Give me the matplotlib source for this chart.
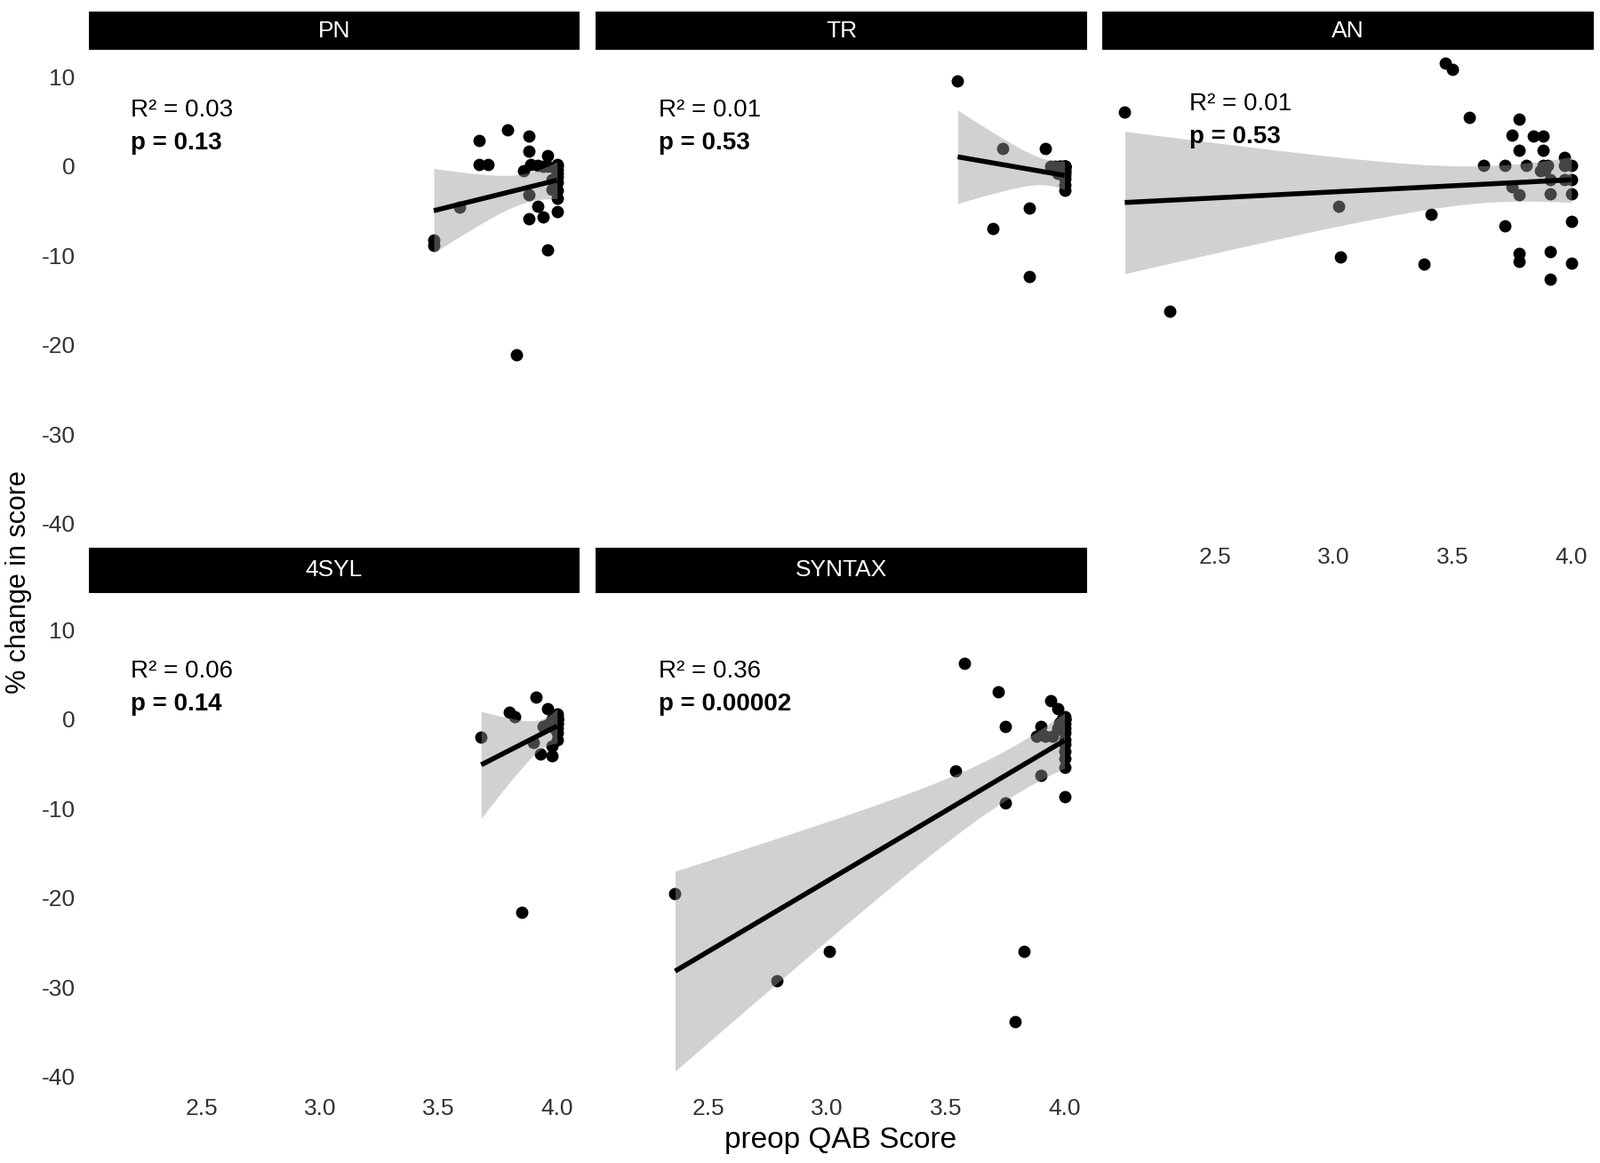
import numpy as np
import matplotlib.pyplot as plt

plt.rcParams['font.family'] = ['Liberation Sans', 'DejaVu Sans']
plt.rcParams['axes.unicode_minus'] = False

# facet names and annotation text
panels = ["PN", "TR", "AN", "4SYL", "SYNTAX"]
r2_labels = ["R\u00b2 = 0.03", "R\u00b2 = 0.01", "R\u00b2 = 0.01", "R\u00b2 = 0.06", "R\u00b2 = 0.36"]
p_labels = ["p = 0.13", "p = 0.53", "p = 0.53", "p = 0.14", "p = 0.00002"]

# preop QAB score vs % change in score
# (many patients sit on top of each other at the 4.0 ceiling)
pn_x = [3.48, 3.48, 3.59, 3.67, 3.67, 3.71, 3.79, 3.88, 3.88, 3.86, 3.83, 3.88, 3.88,
        3.92, 3.94, 3.96, 3.89, 3.92, 3.96, 3.96, 3.98, 4.0, 4.0, 4.0, 4.0, 4.0, 4.0, 3.98, 3.94,
        4.0, 4.0, 4.0, 3.99, 3.99]
pn_y = [-8.3, -8.9, -4.6, 2.9, 0.2, 0.2, 4.0, 3.4, 1.7, -0.5, -21.1, -3.2, -5.9,
        -4.5, -5.7, -9.4, 0.2, 0.1, 1.2, 0.0, -1.5, 0.2, -0.8, -1.8, -2.7, -3.6, -5.1, -2.6, 0.0,
        0.0, -0.4, -1.2, -0.2, -2.0]

tr_x = [3.55, 3.74, 3.92, 3.70, 3.85, 3.85, 3.94, 3.96, 3.98, 4.0, 4.0, 4.0, 4.0, 4.0, 3.97,
        4.0, 4.0, 4.0, 4.0, 4.0, 4.0, 3.99, 3.99, 3.98, 3.98, 4.0, 4.0]
tr_y = [9.5, 2.0, 2.0, -7.0, -4.7, -12.4, 0.0, 0.0, 0.0, 0.0, -0.7, -1.4, -2.1, -2.7, -0.8,
        0.0, 0.0, 0.0, 0.0, -0.3, -0.5, 0.0, -0.6, -0.2, 0.0, 0.0, -1.0]

an_x = [2.12, 2.31, 3.02, 3.03, 3.38, 3.41, 3.47, 3.50, 3.57, 3.63, 3.72, 3.72, 3.75, 3.75,
        3.78, 3.78, 3.78, 3.78, 3.78, 3.81, 3.84, 3.88, 3.88, 3.88, 3.90, 3.91, 3.91, 3.91,
        3.91, 3.97, 3.97, 4.0, 4.0, 3.97, 4.0, 4.0, 4.0, 3.87, 3.89]
an_y = [6.0, -16.2, -4.5, -10.2, -11.0, -5.4, 11.5, 10.8, 5.4, 0.1, 0.1, -6.7, 3.5, -2.3,
        5.2, 1.8, -3.2, -9.8, -10.7, 0.1, 3.4, 3.4, 1.8, 0.1, 0.1, -1.5, -3.1, -9.6,
        -12.7, 1.0, 0.1, 0.1, -1.5, -1.5, -3.1, -6.2, -10.9, -0.5, -0.4]

syl_x = [3.68, 3.80, 3.82, 3.91, 3.85, 3.90, 3.96, 4.0, 4.0, 4.0, 3.98, 3.93, 3.98,
         3.96, 3.94, 4.0, 4.0, 4.0, 4.0, 4.0, 4.0, 4.0, 3.99, 3.99, 3.99, 3.98, 3.98, 4.0]
syl_y = [-2.0, 0.8, 0.3, 2.5, -21.6, -2.6, 1.2, 0.3, -1.0, -2.3, -3.0, -3.9, -4.1,
         -0.6, -0.8, -0.4, 0.0, 0.0, 0.0, 0.0, -0.5, -1.5, 0.0, -0.3, -1.0, 0.0, -0.2, 0.6]

syn_x = [2.36, 2.79, 3.01, 3.54, 3.58, 3.72, 3.75, 3.75, 3.83, 3.79, 3.90, 3.90, 3.94,
         3.97, 4.0, 4.0, 4.0, 4.0, 4.0, 4.0, 3.88, 3.92, 3.95, 3.97,
         4.0, 4.0, 4.0, 4.0, 4.0, 4.0, 4.0, 3.99, 3.99, 3.98]
syn_y = [-19.5, -29.3, -26.0, -5.8, 6.2, 3.1, -0.8, -9.4, -26.0, -33.8, -6.3, -0.8, 2.1,
         1.2, -8.7, 0.3, -1.0, -2.3, -3.6, -5.4, -1.9, -1.9, -1.9, -1.0,
         0.0, 0.0, 0.0, -0.5, -1.5, -2.8, -4.4, 0.0, -1.2, -0.4]

data_x = [pn_x, tr_x, an_x, syl_x, syn_x]
data_y = [pn_y, tr_y, an_y, syl_y, syn_y]

# where the annotation text sits in each panel (data units)
text_pos = [(2.20, 6.2, 2.6), (2.29, 6.2, 2.6), (2.39, 6.9, 3.3),
            (2.20, 5.3, 1.7), (2.29, 5.3, 1.7)]

W, H = 1800, 1308
fig = plt.figure(figsize=(W / 100, H / 100), dpi=100)


def rect(left, top, right, bottom):
    return [left / W, 1 - bottom / H, (right - left) / W, (bottom - top) / H]


def t975(df):
    z = 1.959964
    return z + (z**3 + z) / (4 * df) + (5 * z**5 + 16 * z**3 + 3 * z) / (96 * df**2)


cols = [(100, 652), (670, 1223), (1240, 1793)]
rows = [(13, 56, 605), (616, 667, 1225)]
row_ylim = [(-41.6, 13.0), (-41.4, 14.1)]
tick_color = "#333333"

for i, name in enumerate(panels):
    r, c = divmod(i, 3)
    x0, x1 = cols[c]
    st, pt, pb = rows[r]

    strip = fig.add_axes(rect(x0, st, x1, pt))
    strip.set_facecolor("black")
    strip.set_xticks([])
    strip.set_yticks([])
    for s in strip.spines.values():
        s.set_visible(False)
    strip.text(0.5, 0.5, name, color="white", fontsize=19, ha="center", va="center",
               transform=strip.transAxes)

    ax = fig.add_axes(rect(x0, pt, x1, pb))
    for s in ax.spines.values():
        s.set_visible(False)
    x = np.array(data_x[i])
    y = np.array(data_y[i])

    ax.scatter(x, y, s=100, color="black", zorder=2, linewidths=0)

    # linear fit with 95% confidence band
    slope, icpt = np.polyfit(x, y, 1)
    n = len(x)
    xs = np.linspace(x.min(), x.max(), 100)
    fit = icpt + slope * xs
    resid = y - (icpt + slope * x)
    s_err = np.sqrt(np.sum(resid**2) / (n - 2))
    sxx = np.sum((x - x.mean())**2)
    half = t975(n - 2) * s_err * np.sqrt(1 / n + (xs - x.mean())**2 / sxx)
    ax.fill_between(xs, fit - half, fit + half, color="#999999", alpha=0.45,
                    linewidth=0, zorder=3)
    ax.plot(xs, fit, color="black", lw=4, zorder=4, solid_capstyle="butt")

    tx, ty_r, ty_p = text_pos[i]
    ax.text(tx, ty_r, r2_labels[i], fontsize=20, ha="left", va="center")
    ax.text(tx, ty_p, p_labels[i], fontsize=20, fontweight="bold", ha="left", va="center")

    ax.set_xlim(2.025, 4.095)
    ax.set_ylim(*row_ylim[r])
    ax.set_xticks([2.5, 3.0, 3.5, 4.0])
    ax.set_yticks([10, 0, -10, -20, -30, -40])
    ax.tick_params(axis="y", length=0, labelsize=19, colors=tick_color, pad=11)
    ax.tick_params(axis="x", length=0, labelsize=19, colors=tick_color, pad=7)
    if c != 0:
        ax.set_yticklabels([])
    if r == 0 and c != 2:
        ax.set_xticklabels([])
    else:
        ax.set_xticklabels(["2.5", "3.0", "3.5", "4.0"])

fig.text(21 / W, 1 - 655 / H, "% change in score", rotation=90, fontsize=22,
         ha="center", va="center")
fig.text(946 / W, 1 - 1282 / H, "preop QAB Score", fontsize=24, ha="center", va="center")

fig.savefig("out.png", dpi=100, facecolor="white")
